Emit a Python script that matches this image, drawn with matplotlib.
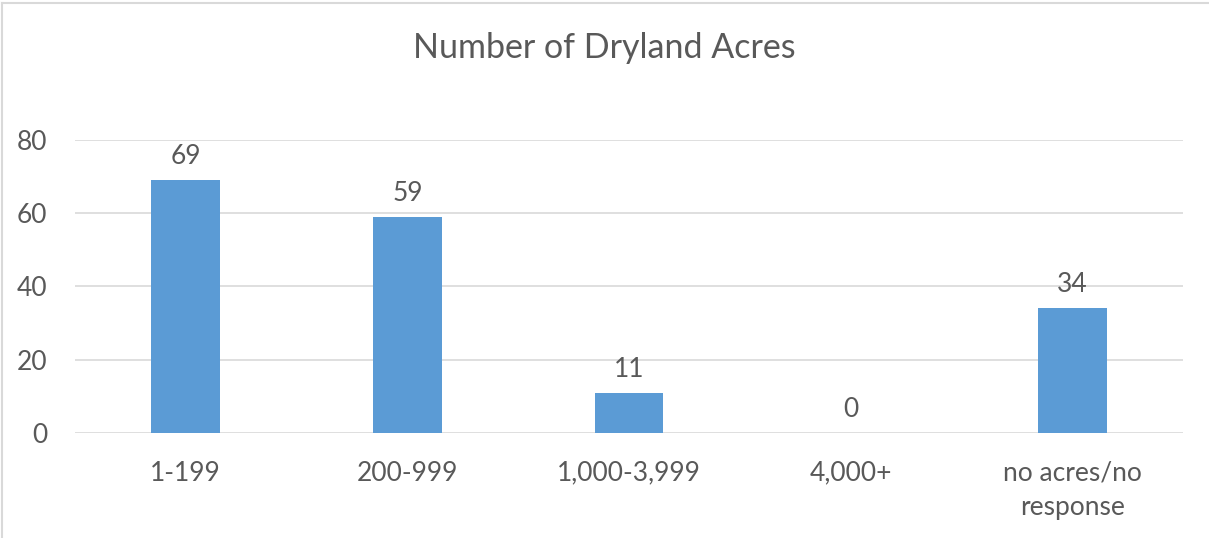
import matplotlib.pyplot as plt

# Données du graphique
categories = ['1-199', '200-999', '1,000-3,999', '4,000+', 'no acres/no\nresponse']
valeurs = [69, 59, 11, 0, 34]
graduations = [0, 20, 40, 60, 80]

plt.rcParams['font.family'] = ['Lato', 'DejaVu Sans']
texte = '#595959'

fig = plt.figure(figsize=(12.09, 5.38), dpi=100)
ax = fig.add_axes([0.062, 0.1952, 0.9165, 0.5446])

x = range(len(categories))
barres = ax.bar(x, valeurs, width=0.31, color='#5B9BD5', zorder=3)

# Étiquettes de valeur au-dessus des barres
for xi, v in zip(x, valeurs):
    ax.annotate(str(v), (xi, v), xytext=(0, 8), textcoords='offset points',
                ha='center', va='bottom', fontsize=19, color=texte)

ax.set_xlim(-0.5, len(categories) - 0.5)
ax.set_ylim(0, 80)
ax.set_yticks(graduations)
ax.set_xticks(list(x))
ax.set_xticklabels(categories, fontsize=19, color=texte, linespacing=1.45)
ax.tick_params(axis='y', labelsize=19, labelcolor=texte, length=0, pad=20)
ax.tick_params(axis='x', length=0, pad=20)

ax.grid(axis='y', color='#D9D9D9', linewidth=1.2, zorder=0)
for s in ax.spines.values():
    s.set_visible(False)

fig.text(0.5, 0.91, 'Number of Dryland Acres', ha='center', va='center',
         fontsize=24.5, color=texte)

# Bordure du cadre (haut et gauche)
fig.add_artist(plt.Line2D([0.002, 1], [0.995, 0.995], color='#D9D9D9', lw=1.5))
fig.add_artist(plt.Line2D([0.002, 0.002], [0, 0.995], color='#D9D9D9', lw=1.5))

fig.savefig('out.png', dpi=100)
